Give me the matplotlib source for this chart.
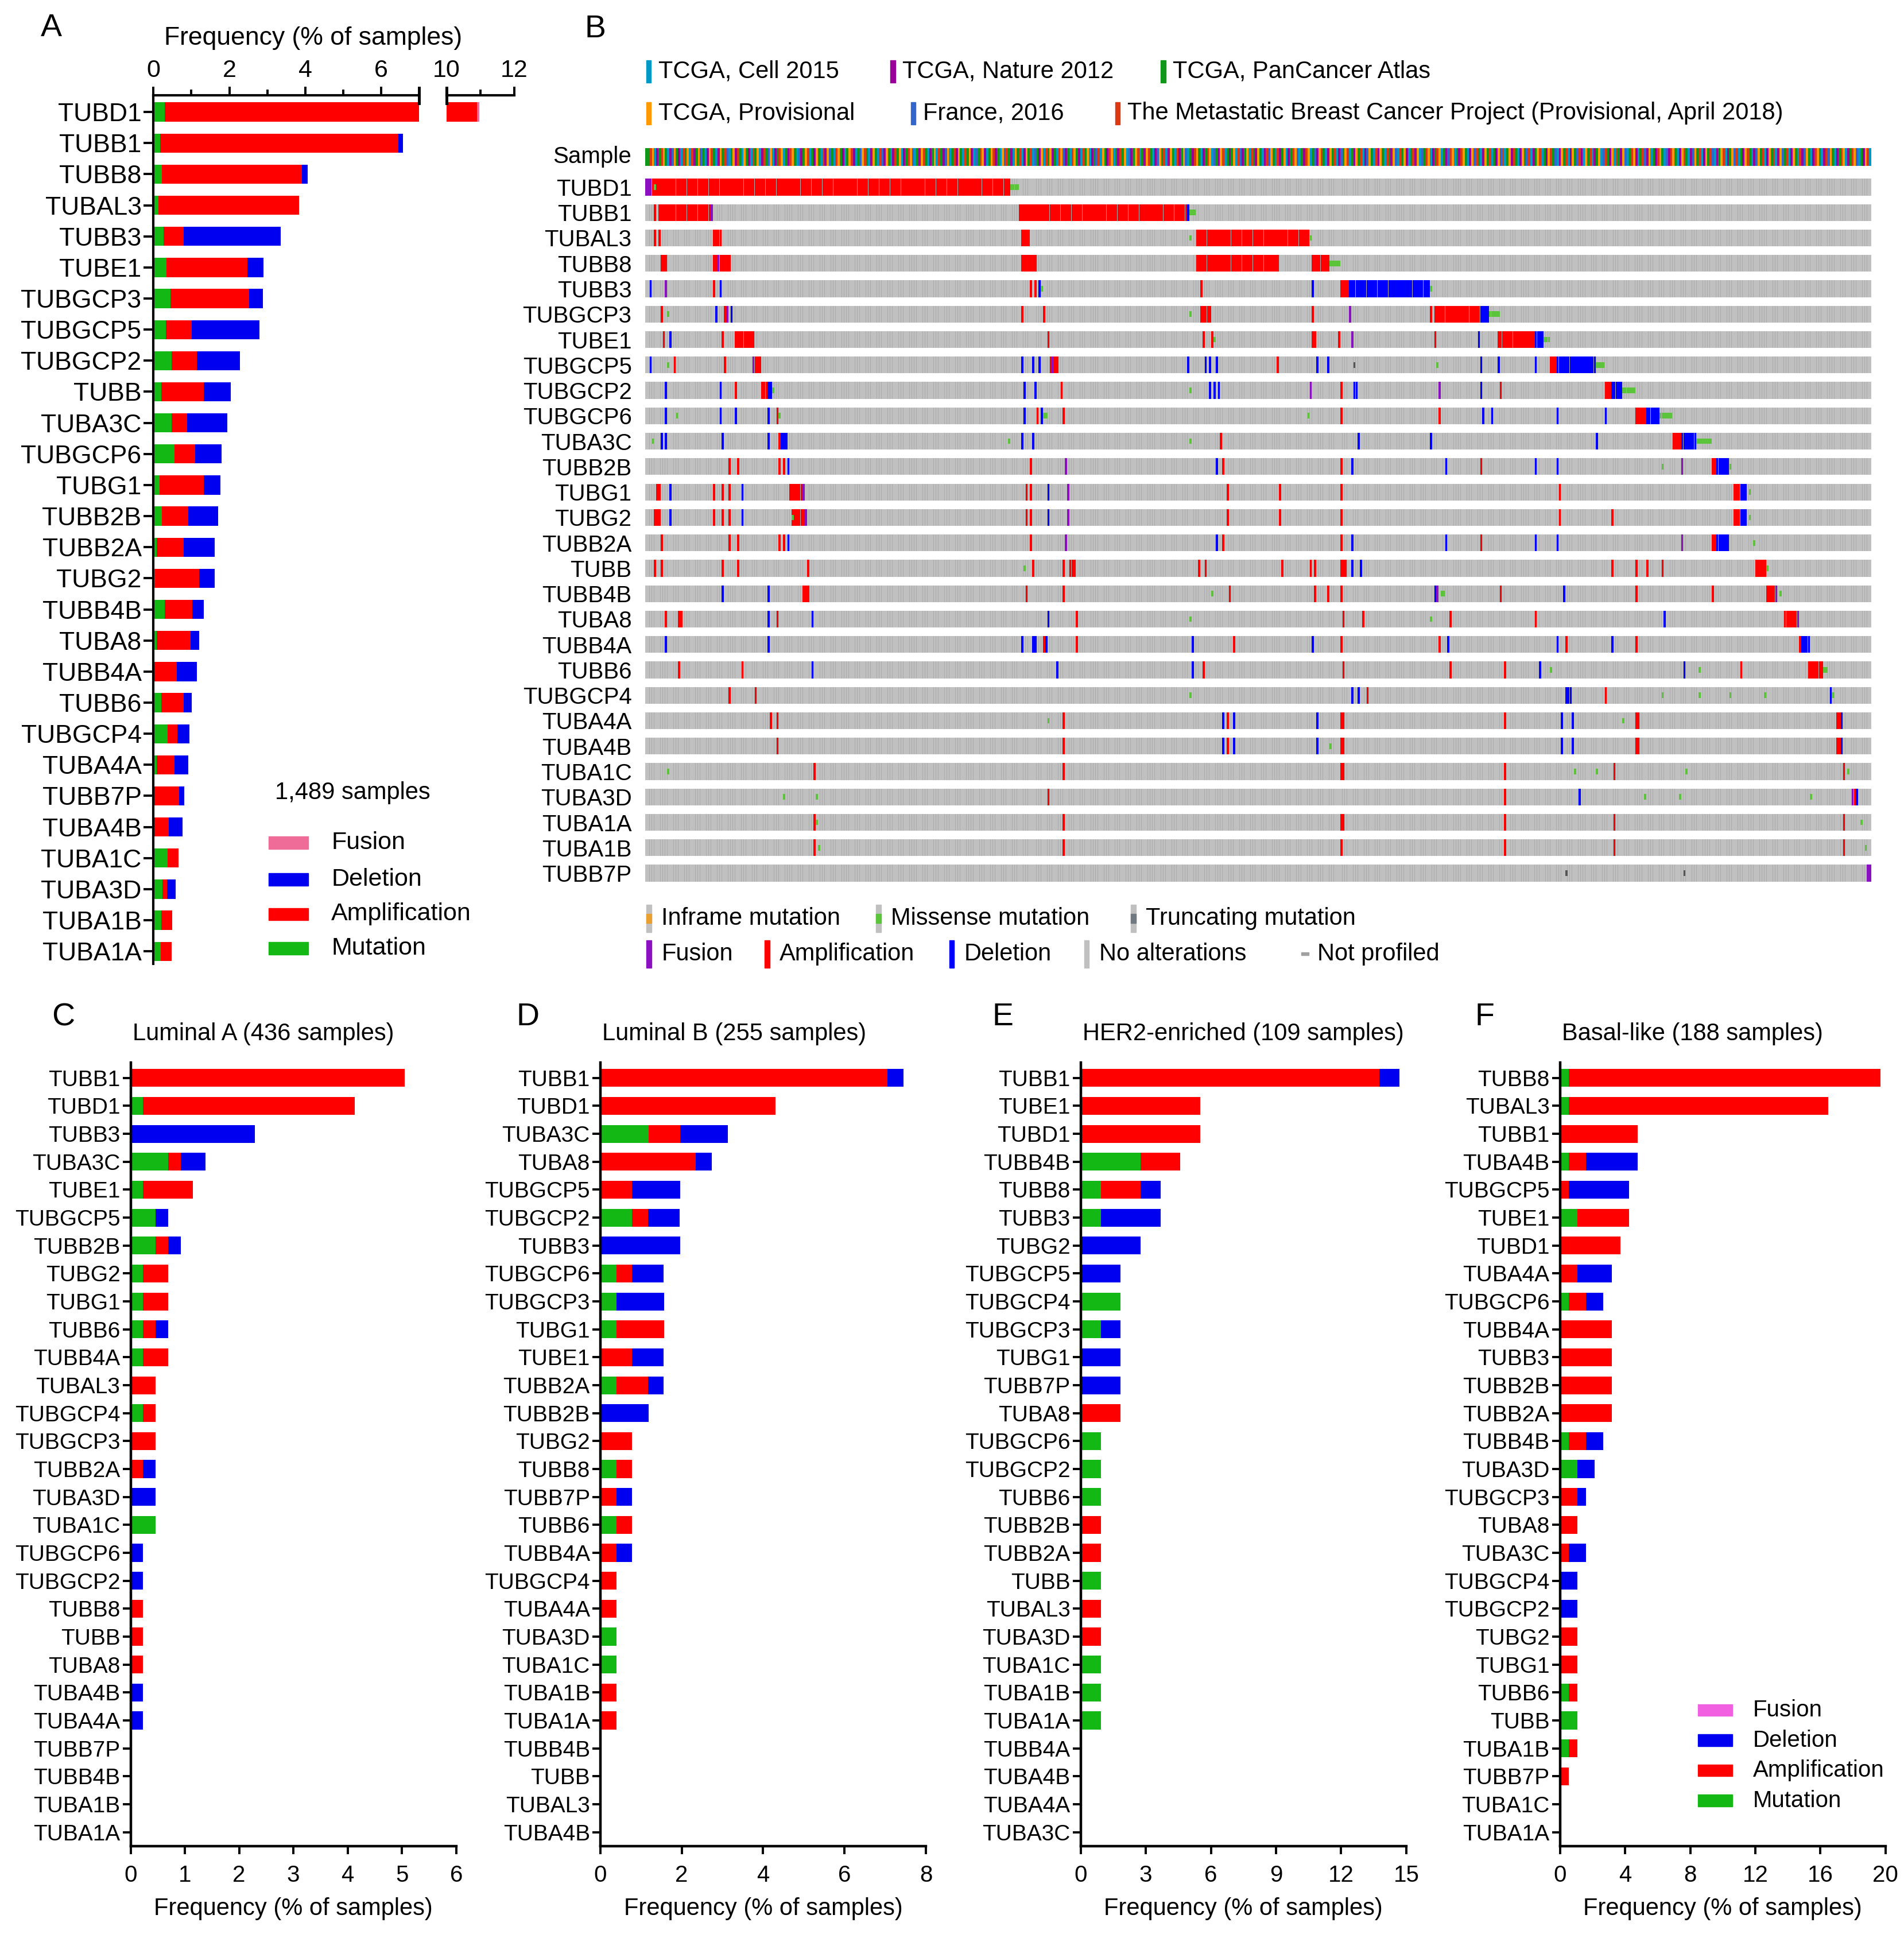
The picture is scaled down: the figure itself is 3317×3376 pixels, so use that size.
import numpy as np
import matplotlib
matplotlib.use("Agg")
import matplotlib.pyplot as plt
from matplotlib.patches import Rectangle
import matplotlib.transforms as mtrans

plt.rcParams['font.family'] = ['Liberation Sans', 'DejaVu Sans']

# ---------------------------
# colours
# ---------------------------
C_MUT = '#14b814'
C_AMP = '#ff0000'
C_DEL = '#0000f0'
C_FUS_A = '#ef6c98'
C_FUS_F = '#f060e0'

O_GRAY = '#c0c0c0'
O_AMP = '#ff0000'
O_DEL = '#0000ff'
O_MIS = '#5cc43a'
O_FUS = '#8a10c0'
O_TRUNC = '#555555'

study_colors = {'C': '#0099c6', 'N': '#990099', 'P': '#109618',
                'O': '#ff9900', 'F': '#3366cc', 'M': '#dc3912'}

# ---------------------------
# panel A data (% of 1,489 samples)
# ---------------------------
genes_all = ['TUBD1', 'TUBB1', 'TUBB8', 'TUBAL3', 'TUBB3', 'TUBE1', 'TUBGCP3',
             'TUBGCP5', 'TUBGCP2', 'TUBB', 'TUBA3C', 'TUBGCP6', 'TUBG1', 'TUBB2B',
             'TUBB2A', 'TUBG2', 'TUBB4B', 'TUBA8', 'TUBB4A', 'TUBB6', 'TUBGCP4',
             'TUBA4A', 'TUBB7P', 'TUBA4B', 'TUBA1C', 'TUBA3D', 'TUBA1B', 'TUBA1A']
mut_all = [0.30, 0.17, 0.22, 0.13, 0.26, 0.35, 0.45, 0.33, 0.48, 0.20, 0.48, 0.56, 0.16, 0.22,
           0.09, 0.04, 0.29, 0.09, 0.00, 0.20, 0.37, 0.09, 0.00, 0.00, 0.37, 0.23, 0.20, 0.19]
amp_all = [10.60, 6.28, 3.70, 3.70, 0.54, 2.13, 2.07, 0.68, 0.67, 1.12, 0.41, 0.54, 1.16, 0.69,
           0.71, 1.16, 0.73, 0.89, 0.61, 0.60, 0.26, 0.47, 0.68, 0.40, 0.29, 0.13, 0.30, 0.29]
del_all = [0.00, 0.13, 0.15, 0.00, 2.56, 0.42, 0.36, 1.79, 1.13, 0.71, 1.06, 0.69, 0.45, 0.80,
           0.82, 0.42, 0.30, 0.23, 0.53, 0.21, 0.32, 0.36, 0.13, 0.37, 0.00, 0.23, 0.00, 0.00]
fus_all = [0.07, 0, 0, 0, 0, 0, 0, 0, 0, 0, 0, 0, 0, 0,
           0, 0, 0, 0, 0, 0, 0, 0, 0, 0, 0, 0, 0, 0]

# ---------------------------
# panels C-F data (% of samples per subtype)
# ---------------------------
genes_c = ['TUBB1', 'TUBD1', 'TUBB3', 'TUBA3C', 'TUBE1', 'TUBGCP5', 'TUBB2B', 'TUBG2',
           'TUBG1', 'TUBB6', 'TUBB4A', 'TUBAL3', 'TUBGCP4', 'TUBGCP3', 'TUBB2A', 'TUBA3D',
           'TUBA1C', 'TUBGCP6', 'TUBGCP2', 'TUBB8', 'TUBB', 'TUBA8', 'TUBA4B', 'TUBA4A',
           'TUBB7P', 'TUBB4B', 'TUBA1B', 'TUBA1A']
mut_c = [0, .23, 0, .69, .23, .46, .46, .23, .23, .23, .23, 0, .23, 0, 0, 0,
         .46, 0, 0, 0, 0, 0, 0, 0, 0, 0, 0, 0]
amp_c = [5.05, 3.90, 0, .23, .92, 0, .23, .46, .46, .23, .46, .46, .23, .46, .23, 0,
         0, 0, 0, .23, .23, .23, 0, 0, 0, 0, 0, 0]
del_c = [0, 0, 2.29, .46, 0, .23, .23, 0, 0, .23, 0, 0, 0, 0, .23, .46,
         0, .23, .23, 0, 0, 0, .23, .23, 0, 0, 0, 0]

genes_d = ['TUBB1', 'TUBD1', 'TUBA3C', 'TUBA8', 'TUBGCP5', 'TUBGCP2', 'TUBB3', 'TUBGCP6',
           'TUBGCP3', 'TUBG1', 'TUBE1', 'TUBB2A', 'TUBB2B', 'TUBG2', 'TUBB8', 'TUBB7P',
           'TUBB6', 'TUBB4A', 'TUBGCP4', 'TUBA4A', 'TUBA3D', 'TUBA1C', 'TUBA1B', 'TUBA1A',
           'TUBB4B', 'TUBB', 'TUBAL3', 'TUBA4B']
mut_d = [0, 0, 1.18, 0, 0, .78, 0, .39, .39, .39, 0, .39, 0, 0, .39, 0,
         .39, 0, 0, 0, .39, .39, 0, 0, 0, 0, 0, 0]
amp_d = [7.06, 4.31, .78, 2.35, .78, .39, 0, .39, 0, 1.18, .78, .78, 0, .78, .39, .39,
         .39, .39, .39, .39, 0, 0, .39, .39, 0, 0, 0, 0]
del_d = [.39, 0, 1.18, .39, 1.18, .78, 1.96, .78, 1.18, 0, .78, .39, 1.18, 0, 0, .39,
         0, .39, 0, 0, 0, 0, 0, 0, 0, 0, 0, 0]

genes_e = ['TUBB1', 'TUBE1', 'TUBD1', 'TUBB4B', 'TUBB8', 'TUBB3', 'TUBG2', 'TUBGCP5',
           'TUBGCP4', 'TUBGCP3', 'TUBG1', 'TUBB7P', 'TUBA8', 'TUBGCP6', 'TUBGCP2', 'TUBB6',
           'TUBB2B', 'TUBB2A', 'TUBB', 'TUBAL3', 'TUBA3D', 'TUBA1C', 'TUBA1B', 'TUBA1A',
           'TUBB4A', 'TUBA4B', 'TUBA4A', 'TUBA3C']
mut_e = [0, 0, 0, 2.75, .92, .92, 0, 0, 1.83, .92, 0, 0, 0, .92, .92, .92,
         0, 0, .92, 0, 0, .92, .92, .92, 0, 0, 0, 0]
amp_e = [13.76, 5.50, 5.50, 1.83, 1.83, 0, 0, 0, 0, 0, 0, 0, 1.83, 0, 0, 0,
         .92, .92, 0, .92, .92, 0, 0, 0, 0, 0, 0, 0]
del_e = [.92, 0, 0, 0, .92, 2.75, 2.75, 1.83, 0, .92, 1.83, 1.83, 0, 0, 0, 0,
         0, 0, 0, 0, 0, 0, 0, 0, 0, 0, 0, 0]

genes_f = ['TUBB8', 'TUBAL3', 'TUBB1', 'TUBA4B', 'TUBGCP5', 'TUBE1', 'TUBD1', 'TUBA4A',
           'TUBGCP6', 'TUBB4A', 'TUBB3', 'TUBB2B', 'TUBB2A', 'TUBB4B', 'TUBA3D', 'TUBGCP3',
           'TUBA8', 'TUBA3C', 'TUBGCP4', 'TUBGCP2', 'TUBG2', 'TUBG1', 'TUBB6', 'TUBB',
           'TUBA1B', 'TUBB7P', 'TUBA1C', 'TUBA1A']
mut_f = [.53, .53, 0, .53, 0, 1.06, 0, 0, .53, 0, 0, 0, 0, .53, 1.06, 0,
         0, 0, 0, 0, 0, 0, .53, 1.06, .53, 0, 0, 0]
amp_f = [19.15, 15.96, 4.79, 1.06, .53, 3.19, 3.72, 1.06, 1.06, 3.19, 3.19, 3.19, 3.19, 1.06, 0, 1.06,
         1.06, .53, 0, 0, 1.06, 1.06, .53, 0, .53, .53, 0, 0]
del_f = [0, 0, 0, 3.19, 3.72, 0, 0, 2.13, 1.06, 0, 0, 0, 0, 1.06, 1.06, .53,
         0, 1.06, 1.06, 1.06, 0, 0, 0, 0, 0, 0, 0, 0]

# ---------------------------
# panel B oncoprint data (altered cases, column index spans)
# ---------------------------
N_COLS = 561
onco_genes = ['TUBD1', 'TUBB1', 'TUBAL3', 'TUBB8', 'TUBB3', 'TUBGCP3', 'TUBE1', 'TUBGCP5',
              'TUBGCP2', 'TUBGCP6', 'TUBA3C', 'TUBB2B', 'TUBG1', 'TUBG2', 'TUBB2A', 'TUBB',
              'TUBB4B', 'TUBA8', 'TUBB4A', 'TUBB6', 'TUBGCP4', 'TUBA4A', 'TUBA4B', 'TUBA1C',
              'TUBA3D', 'TUBA1A', 'TUBA1B', 'TUBB7P']

amp_spans = {
    'TUBD1': [(3, 166)],
    'TUBB1': [(4, 4), (6, 29), (171, 247)],
    'TUBAL3': [(4, 4), (6, 6), (31, 34), (172, 175), (252, 303)],
    'TUBB8': [(7, 9), (31, 38), (172, 178), (252, 289), (305, 312)],
    'TUBB3': [(31, 31), (176, 176), (178, 178), (254, 254), (318, 321)],
    'TUBGCP3': [(7, 7), (36, 36), (172, 172), (182, 182), (254, 258), (305, 305), (359, 359), (361, 381)],
    'TUBE1': [(8, 8), (35, 35), (41, 49), (184, 184), (255, 255), (259, 259), (305, 306), (317, 317),
              (361, 361), (390, 406)],
    'TUBGCP5': [(13, 13), (36, 36), (50, 52), (185, 188), (289, 289), (414, 416)],
    'TUBGCP2': [(41, 41), (53, 55), (190, 190), (318, 318), (391, 391), (439, 441)],
    'TUBGCP6': [(60, 60), (179, 179), (191, 191), (318, 318), (363, 363), (453, 457)],
    'TUBA3C': [(61, 61), (263, 263), (470, 473)],
    'TUBB2B': [(38, 38), (42, 42), (61, 61), (63, 63), (176, 176), (264, 264), (318, 318), (382, 382),
               (488, 489)],
    'TUBG1': [(5, 6), (31, 31), (35, 35), (38, 38), (66, 72), (174, 174), (176, 176), (266, 266),
              (290, 290), (318, 318), (418, 418), (498, 500)],
    'TUBG2': [(4, 6), (31, 31), (35, 35), (38, 38), (67, 72), (174, 174), (176, 176), (266, 266),
              (290, 290), (318, 318), (418, 418), (442, 442), (498, 500)],
    'TUBB2A': [(7, 7), (38, 38), (42, 42), (61, 61), (63, 63), (176, 176), (264, 264), (318, 318),
               (382, 382), (488, 489)],
    'TUBB': [(4, 4), (7, 7), (35, 35), (42, 42), (74, 74), (177, 177), (191, 191), (194, 196),
             (253, 253), (256, 256), (291, 291), (304, 304), (306, 306), (318, 320), (442, 442),
             (453, 453), (458, 458), (465, 465), (508, 512)],
    'TUBB4B': [(72, 74), (174, 174), (191, 191), (267, 267), (306, 306), (312, 312), (318, 318),
               (391, 391), (453, 453), (488, 488), (513, 516)],
    'TUBA8': [(9, 9), (15, 16), (60, 60), (197, 197), (319, 319), (328, 328), (368, 368), (407, 407),
              (521, 526)],
    'TUBB4A': [(182, 182), (197, 197), (269, 269), (318, 318), (363, 363), (421, 421), (453, 453),
               (528, 528)],
    'TUBB6': [(15, 15), (44, 44), (250, 250), (255, 255), (319, 319), (368, 368), (393, 393),
              (501, 501), (532, 538)],
    'TUBGCP4': [(38, 38), (50, 50), (330, 330), (439, 439)],
    'TUBA4A': [(57, 57), (60, 60), (191, 191), (266, 266), (318, 319), (393, 393), (453, 454), (545, 546)],
    'TUBA4B': [(60, 60), (191, 191), (266, 266), (318, 319), (453, 454), (545, 546)],
    'TUBA1C': [(77, 77), (191, 191), (318, 319), (393, 393), (443, 443), (548, 548)],
    'TUBA3D': [(184, 184), (393, 393), (553, 553)],
    'TUBA1A': [(77, 77), (191, 191), (318, 319), (393, 393), (443, 443), (548, 548)],
    'TUBA1B': [(77, 77), (191, 191), (318, 318), (393, 393), (443, 443), (548, 548)],
}

del_spans = {
    'TUBB1': [(248, 248)],
    'TUBB3': [(2, 2), (34, 34), (180, 180), (305, 305), (322, 358)],
    'TUBGCP3': [(32, 32), (39, 39), (382, 385)],
    'TUBE1': [(11, 11), (381, 381), (407, 410)],
    'TUBGCP5': [(2, 2), (172, 172), (177, 177), (180, 180), (248, 248), (256, 256), (258, 258),
                (261, 261), (307, 307), (312, 312), (382, 382), (390, 390), (407, 407), (417, 434)],
    'TUBGCP2': [(9, 9), (34, 34), (56, 57), (173, 173), (178, 178), (258, 258), (260, 260), (262, 262),
                (324, 325), (382, 382), (442, 446)],
    'TUBGCP6': [(9, 9), (34, 34), (41, 41), (56, 56), (173, 173), (181, 181), (383, 383), (387, 387),
                (417, 417), (439, 439), (458, 463)],
    'TUBA3C': [(7, 7), (9, 9), (35, 35), (56, 56), (62, 64), (172, 172), (177, 177), (326, 326),
               (359, 359), (435, 435), (474, 480)],
    'TUBB2B': [(65, 65), (261, 261), (323, 323), (366, 366), (407, 407), (417, 417), (490, 495)],
    'TUBG1': [(11, 11), (44, 44), (184, 184), (501, 503)],
    'TUBG2': [(11, 11), (44, 44), (184, 184), (501, 503)],
    'TUBB2A': [(65, 65), (261, 261), (323, 323), (366, 366), (407, 407), (417, 417), (490, 495)],
    'TUBB': [(323, 323), (327, 327)],
    'TUBB4B': [(35, 35), (56, 56), (361, 361), (420, 420)],
    'TUBA8': [(56, 56), (76, 76), (184, 184), (466, 466)],
    'TUBB4A': [(9, 9), (56, 56), (172, 172), (177, 178), (183, 183), (250, 250), (305, 305), (367, 367),
               (417, 417), (442, 442), (529, 532)],
    'TUBB6': [(76, 76), (188, 188), (250, 250), (409, 409), (475, 475)],
    'TUBGCP4': [(323, 323), (326, 326), (421, 423), (542, 542)],
    'TUBA4A': [(264, 264), (269, 269), (307, 307), (419, 419), (424, 424), (547, 547)],
    'TUBA4B': [(264, 264), (269, 269), (307, 307), (419, 419), (424, 424), (547, 547)],
    'TUBA3D': [(427, 427), (554, 554)],
}

fus_spans = {
    'TUBD1': [(0, 2)], 'TUBB1': [(30, 30)], 'TUBB8': [(33, 33)], 'TUBB3': [(9, 9)],
    'TUBGCP3': [(37, 37), (322, 322)], 'TUBE1': [(323, 323)], 'TUBGCP5': [(49, 49), (186, 186)],
    'TUBGCP2': [(304, 304), (363, 363)], 'TUBB2B': [(192, 192), (474, 474)],
    'TUBG1': [(72, 72), (193, 193)], 'TUBG2': [(73, 73), (193, 193)],
    'TUBB2A': [(192, 192), (474, 474)], 'TUBB4B': [(362, 362), (517, 517)],
    'TUBA8': [(527, 527)], 'TUBA3D': [(552, 552)], 'TUBB7P': [(559, 560)],
}

mis_spans = {
    'TUBD1': [(4, 4), (167, 170)], 'TUBB1': [(249, 251)], 'TUBAL3': [(249, 249), (304, 304)],
    'TUBB8': [(313, 317)], 'TUBB3': [(181, 181), (359, 359)],
    'TUBGCP3': [(10, 10), (249, 249), (386, 390)], 'TUBE1': [(260, 260), (411, 413)],
    'TUBGCP5': [(10, 10), (362, 362), (435, 438)], 'TUBGCP2': [(58, 58), (249, 249), (447, 452)],
    'TUBGCP6': [(14, 14), (61, 61), (182, 183), (303, 303), (464, 469)],
    'TUBA3C': [(3, 3), (166, 166), (249, 249), (481, 487)], 'TUBB2B': [(465, 465), (496, 496)],
    'TUBG1': [(505, 505)], 'TUBG2': [(67, 67), (505, 505)], 'TUBB2A': [(507, 507)],
    'TUBB': [(173, 173), (513, 513)], 'TUBB4B': [(259, 259), (364, 365), (519, 519)],
    'TUBA8': [(249, 249), (359, 359)], 'TUBB6': [(414, 414), (482, 482), (539, 540)],
    'TUBGCP4': [(249, 249), (465, 465), (482, 482), (496, 496), (512, 512), (543, 543)],
    'TUBA4A': [(184, 184), (447, 447)], 'TUBA4B': [(313, 313)],
    'TUBA1C': [(10, 10), (425, 425), (435, 435), (476, 476), (550, 550)],
    'TUBA3D': [(63, 63), (78, 78), (457, 457), (473, 473), (533, 533)],
    'TUBA1A': [(78, 78), (556, 556)], 'TUBA1B': [(79, 79), (558, 558)],
}

trunc_spans = {'TUBB7P': [(421, 421), (475, 475)], 'TUBGCP5': [(324, 324)]}

# study of origin of each column (C=Cell 2015, N=Nature 2012, P=PanCancer, O=Provisional,
# F=France 2016, M=Metastatic Breast Cancer Project)
study_seq = ("PPMOCNPMOPCNFOPNCMPOCMNPOFPCNOMPCNOPMFCPONMPCOPNCM"
             "POCNMPFOCNPMOCPNMOPCFNPOMCPNOPCMNOFPCMOPNCPOMNCPFO"
             "MPCNOPCMFNOPCNMPOCNPMOFCPNOMPCNPOCMPNFOCPMNOPCMPON"
             "CFPMONCPOMNPCOFMPNCOPMCNOPMCFPNOCMPONPCMOFNPCMOPNC"
             "MPOCNPFMCOPNMOCPNMPOCFNPOMCPNOMPCNFOPMCNOPCMNPOFCP"
             "NMOPCNPMOCFPNOMCPNPOCMFNPOCMPNOPCNMFOPCMNPOCNPMOFC"
             "PNMOCPFNOMPCNOPMCNFPOMCPNOPMCNFOPCMNOPCMPNOFCMPONC"
             "PMNOCFPMOCNPMOCPNFMOCPNMOPCNOFMPCNOPMCPNOFMCPONMPC"
             "NOPFMCNPOMCPNOMPFCNOPMCNOPFMNCOPMCNPOCFMPNOCMPNOFC"
             "PMONCPMFNOCPNMOPCFNMOPCNOMPCNFOPMCNOPMFCNPOMCNPOFM"
             "CPNOMPCNFOPMCNOPMCNOFPMCNOPCMNFOPCNMOPCNMFOPCNPMOC"
             "NPMOFCPNOMCPNOMPCFNOPMCNOPMNCFOPCMNOPFCMNPOCMPNOCN")

study_names = ['TCGA, Cell 2015', 'TCGA, Nature 2012', 'TCGA, PanCancer Atlas',
               'TCGA, Provisional', 'France, 2016',
               'The Metastatic Breast Cancer Project (Provisional, April 2018)']
study_keys = ['C', 'N', 'P', 'O', 'F', 'M']

fig = plt.figure(figsize=(33.17, 33.76), dpi=100)


def draw_stack(ax, genes, parts, h):
    y = np.arange(len(genes))
    left = np.zeros(len(genes))
    for vals, col in parts:
        vals = np.array(vals, dtype=float)
        ax.barh(y, vals, left=left, height=h, color=col, linewidth=0)
        left = left + vals


# ---------------------------
# Panel A
# ---------------------------
parts_a = [(mut_all, C_MUT), (amp_all, C_AMP), (del_all, C_DEL), (fus_all, C_FUS_A)]
ax_a = fig.add_axes([0.0806, 0.5027, 0.2201 - 0.0806, 0.9507 - 0.5027])
draw_stack(ax_a, genes_all, parts_a, 0.615)
ax_a.set_xlim(0, 7)
ax_a.set_ylim(27.4, -0.53)
ax_a.xaxis.tick_top()
ax_a.set_xticks([0, 2, 4, 6])
ax_a.set_xticks([1, 3, 5], minor=True)
ax_a.set_yticks(range(len(genes_all)))
ax_a.set_yticklabels(genes_all, fontsize=32)
ax_a.tick_params(axis='x', which='major', labelsize=31, length=11, width=2.8, pad=6)
ax_a.tick_params(axis='x', which='minor', length=7, width=2.8)
ax_a.tick_params(axis='y', length=12, width=2.8, pad=3)
for s in ['right', 'bottom']:
    ax_a.spines[s].set_visible(False)
for s in ['top', 'left']:
    ax_a.spines[s].set_linewidth(3)
tr = mtrans.blended_transform_factory(ax_a.transData, ax_a.transAxes)
ax_a.plot([7, 7], [0.991, 1.009], transform=tr, color='black', lw=3.5, clip_on=False)

ax_a2 = fig.add_axes([0.2345, 0.5027, 0.2700 - 0.2345, 0.9507 - 0.5027])
draw_stack(ax_a2, genes_all, parts_a, 0.615)
ax_a2.set_xlim(10, 12)
ax_a2.set_ylim(27.4, -0.53)
ax_a2.xaxis.tick_top()
ax_a2.set_xticks([10, 12])
ax_a2.set_xticks([11], minor=True)
ax_a2.set_yticks([])
ax_a2.tick_params(axis='x', which='major', labelsize=31, length=11, width=2.8, pad=6)
ax_a2.tick_params(axis='x', which='minor', length=7, width=2.8)
for s in ['right', 'bottom', 'left']:
    ax_a2.spines[s].set_visible(False)
ax_a2.spines['top'].set_linewidth(3)
tr2 = mtrans.blended_transform_factory(ax_a2.transData, ax_a2.transAxes)
ax_a2.plot([10, 10], [0.991, 1.009], transform=tr2, color='black', lw=3.5, clip_on=False)

fig.text(0.0268, 0.9855, 'A', fontsize=40, ha='center', va='center')
fig.text(0.1644, 0.9804, 'Frequency (% of samples)', fontsize=32, ha='center', va='center')
fig.text(0.1444, 0.5909, '1,489 samples', fontsize=30, ha='left', va='center')
leg_a = [('Fusion', C_FUS_A), ('Deletion', C_DEL), ('Amplification', C_AMP), ('Mutation', C_MUT)]
for (lab, col), yy in zip(leg_a, [0.5652, 0.5462, 0.5283, 0.5107]):
    fig.patches.append(Rectangle((0.141, yy - 0.0032), 0.021, 0.0064, color=col,
                                 transform=fig.transFigure))
    fig.text(0.174, yy, lab, fontsize=31, ha='left', va='center')

# ---------------------------
# Panel B (oncoprint)
# ---------------------------
X0, X1 = 0.3389, 0.9828
cols = np.arange(N_COLS)

ax_s = fig.add_axes([X0, 0.9145, X1 - X0, 0.0091])
ax_s.bar(cols, 1, width=1.0, color=[study_colors[ch] for ch in study_seq[:N_COLS]], linewidth=0)
ax_s.set_xlim(-0.5, N_COLS - 0.5)
ax_s.set_ylim(0, 1)
ax_s.axis('off')
fig.text(0.3315, 0.9190, 'Sample', fontsize=29, ha='right', va='center')

ax_b = fig.add_axes([X0, 0.5429, X1 - X0, 0.9100 - 0.5429])
ax_b.set_xlim(-0.5, N_COLS - 0.5)
ax_b.set_ylim(len(onco_genes) - 0.5, -0.5)
RH = 0.66
for r, g in enumerate(onco_genes):
    ax_b.broken_barh([(-0.5, N_COLS)], (r - RH / 2, RH), facecolors='#ababab', linewidth=0)
    ax_b.broken_barh([(c - 0.42, 0.84) for c in cols], (r - RH / 2, RH),
                     facecolors=O_GRAY, linewidth=0)


def put_spans(spans, color, h, w=0.96):
    for g, lst in spans.items():
        r = onco_genes.index(g)
        segs = [(c - w / 2, w) for (a, b) in lst for c in range(a, b + 1)]
        ax_b.broken_barh(segs, (r - h / 2, h), facecolors=color, linewidth=0)


put_spans(amp_spans, O_AMP, RH)
put_spans(del_spans, O_DEL, RH)
put_spans(fus_spans, O_FUS, RH)
put_spans(mis_spans, O_MIS, 0.22)
put_spans(trunc_spans, O_TRUNC, 0.22)

ax_b.set_yticks(range(len(onco_genes)))
ax_b.set_yticklabels(onco_genes, fontsize=29)
ax_b.tick_params(axis='y', length=0, pad=17)
ax_b.set_xticks([])
for s in ax_b.spines.values():
    s.set_visible(False)

fig.text(0.3126, 0.9850, 'B', fontsize=40, ha='center', va='center')

# study legend
study_pos = [(0.3407, 0.9631), (0.4690, 0.9631), (0.6110, 0.9631),
             (0.3407, 0.9415), (0.4797, 0.9415), (0.5870, 0.9415)]
for key, name, (xx, yy) in zip(study_keys, study_names, study_pos):
    fig.patches.append(Rectangle((xx - 0.0013, yy - 0.0058), 0.0026, 0.0116,
                                 color=study_colors[key], transform=fig.transFigure))
    fig.text(xx + 0.005, yy, name, fontsize=30, ha='left', va='center')


# alteration legend
def legend_marker(xx, yy, kind):
    h = 0.0142
    w = 0.0026
    if kind in ('inframe', 'missense', 'trunc', 'none'):
        fig.patches.append(Rectangle((xx - w / 2, yy - h / 2), w, h, color=O_GRAY,
                                     transform=fig.transFigure))
        inner = {'inframe': '#e8a030', 'missense': O_MIS, 'trunc': '#707880'}.get(kind)
        if inner:
            fig.patches.append(Rectangle((xx - w / 2, yy - h / 6), w, h / 3, color=inner,
                                         transform=fig.transFigure))
    elif kind == 'notprof':
        fig.patches.append(Rectangle((xx - 0.002, yy - 0.0008), 0.004, 0.0016, color='#a0a0a0',
                                     transform=fig.transFigure))
    else:
        col = {'fusion': O_FUS, 'amp': O_AMP, 'del': O_DEL}[kind]
        fig.patches.append(Rectangle((xx - w / 2, yy - h / 2), w, h, color=col,
                                     transform=fig.transFigure))


alt_legend = [('Inframe mutation', 'inframe', 0.3409, 0.5260),
              ('Missense mutation', 'missense', 0.4614, 0.5260),
              ('Truncating mutation', 'trunc', 0.5953, 0.5260),
              ('Fusion', 'fusion', 0.3409, 0.5078),
              ('Amplification', 'amp', 0.4030, 0.5078),
              ('Deletion', 'del', 0.4999, 0.5078),
              ('No alterations', 'none', 0.5707, 0.5078),
              ('Not profiled', 'notprof', 0.6854, 0.5078)]
for lab, kind, xx, yy in alt_legend:
    legend_marker(xx, yy, kind)
    fig.text(xx + 0.0065, yy, lab, fontsize=30, ha='left', va='center')


# ---------------------------
# Panels C-F
# ---------------------------
def subtype_panel(x0, genes, mut, amp, dele, xmax, step, title, letter, letter_x):
    ax = fig.add_axes([x0, 0.0474, 0.171, 0.4043])
    draw_stack(ax, genes, [(mut, C_MUT), (amp, C_AMP), (dele, C_DEL)], 0.64)
    ax.set_xlim(0, xmax)
    ax.set_ylim(len(genes) - 0.5, -0.55)
    ax.set_xticks(np.arange(0, xmax + 0.01, step))
    ax.set_yticks(range(len(genes)))
    ax.set_yticklabels(genes, fontsize=28)
    ax.tick_params(axis='x', labelsize=29, length=10, width=2.8, pad=13)
    ax.tick_params(axis='y', length=10, width=2.8, pad=3)
    for s in ['right', 'top']:
        ax.spines[s].set_visible(False)
    for s in ['left', 'bottom']:
        ax.spines[s].set_linewidth(3.2)
    ax.set_xlabel('Frequency (% of samples)', fontsize=30, labelpad=14)
    fig.text(x0 + 0.001, 0.4664, title, fontsize=30, ha='left', va='center')
    fig.text(letter_x, 0.4751, letter, fontsize=40, ha='center', va='center')
    return ax


subtype_panel(0.0686, genes_c, mut_c, amp_c, del_c, 6, 1, 'Luminal A (436 samples)', 'C', 0.0331)
subtype_panel(0.3153, genes_d, mut_d, amp_d, del_d, 8, 2, 'Luminal B (255 samples)', 'D', 0.2772)
subtype_panel(0.5676, genes_e, mut_e, amp_e, del_e, 15, 3, 'HER2-enriched (109 samples)', 'E', 0.5267)
subtype_panel(0.8193, genes_f, mut_f, amp_f, del_f, 20, 4, 'Basal-like (188 samples)', 'F', 0.7799)

leg_f = [('Fusion', C_FUS_F), ('Deletion', C_DEL), ('Amplification', C_AMP), ('Mutation', C_MUT)]
for (lab, col), yy in zip(leg_f, [0.1176, 0.1020, 0.0865, 0.0709]):
    fig.patches.append(Rectangle((0.8918, yy - 0.0031), 0.0182, 0.0062, color=col,
                                 transform=fig.transFigure))
    fig.text(0.9207, yy, lab, fontsize=29, ha='left', va='center')

fig.savefig('out.png', dpi=100)
